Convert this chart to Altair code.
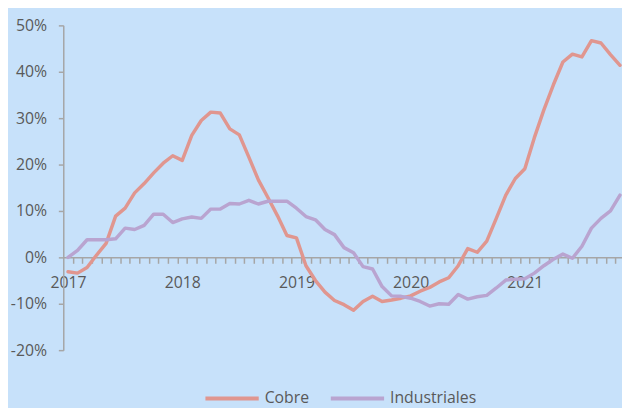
import altair as alt
import pandas as pd

# ---- data (monthly % change, Jan 2017 .. Nov 2021) ----
years = ["2017", "2018", "2019", "2020", "2021"]
series_names = ["Cobre", "Industriales"]
cobre = [-3.1, -3.4, -2.2, 0.5, 3.0, 8.9, 10.6, 13.9, 15.9, 18.2, 20.3, 21.9,
         20.9, 26.3, 29.5, 31.3, 31.1, 27.7, 26.4, 21.6, 16.7, 12.9, 9.0, 4.7,
         4.2, -1.8, -5.0, -7.5, -9.3, -10.2, -11.4, -9.5, -8.4, -9.5, -9.2, -8.8,
         -8.3, -7.3, -6.5, -5.3, -4.4, -1.8, 1.9, 1.1, 3.5, 8.4, 13.4, 17.0,
         19.1, 25.8, 31.8, 37.2, 42.1, 43.8, 43.2, 46.7, 46.2, 43.7, 41.4]
industriales = [0.0, 1.5, 3.8, 3.8, 3.8, 4.0, 6.3, 6.0, 6.9, 9.3, 9.3, 7.5,
                8.3, 8.7, 8.4, 10.4, 10.4, 11.6, 11.5, 12.3, 11.5, 12.1, 12.1, 12.1,
                10.6, 8.8, 8.1, 6.0, 4.9, 2.1, 1.0, -2.0, -2.5, -6.3, -8.3, -8.4,
                -8.8, -9.5, -10.5, -10.0, -10.1, -8.0, -9.0, -8.5, -8.2, -6.6, -4.9, -4.7,
                -4.6, -3.4, -1.8, -0.4, 0.7, -0.2, 2.4, 6.3, 8.4, 10.0, 13.4]
y_ticks = [-20, -10, 0, 10, 20, 30, 40, 50]

rows = []
for name, vals in zip(series_names, [cobre, industriales]):
    for i, v in enumerate(vals):
        rows.append({"t": i, "serie": name, "v": v})
df = pd.DataFrame(rows)

year_pos = [i * 12 for i in range(len(years))]
year_df = pd.DataFrame({"t": year_pos, "label": years, "v": [0] * len(years)})
month_ticks = [i + 0.5 for i in range(len(cobre) - 1)]

font = "Open Sans"
text_color = "#595959"
axis_color = "#A6A6A6"
colors = ["#E0968F", "#B9A4D0"]
bg = "#C7E1FA"

x_scale = alt.Scale(domain=[-0.5, 58.21], nice=False, zero=False)
y_scale = alt.Scale(domain=[-20, 50], nice=False)

y_axis = alt.Axis(values=y_ticks, labelExpr="datum.value + '%'", title=None, grid=False,
                  domainColor=axis_color, domainWidth=1.5, tickColor=axis_color, tickWidth=1.5,
                  tickSize=5, labelPadding=12, labelFont=font, labelFontSize=16,
                  labelColor=text_color)

lines = alt.Chart(df).mark_line(strokeWidth=3.5, clip=True, strokeJoin="round",
                                strokeCap="round").encode(
    x=alt.X("t:Q", scale=x_scale,
            axis=alt.Axis(values=month_ticks, labels=False, tickSize=6, orient="bottom",
                          offset=-94, grid=False, title=None, domainColor=axis_color,
                          domainWidth=1.5, tickColor=axis_color, tickWidth=1.5)),
    y=alt.Y("v:Q", scale=y_scale, axis=y_axis),
    color=alt.Color("serie:N", scale=alt.Scale(domain=series_names, range=colors),
                    legend=alt.Legend(title=None, orient="none", legendX=142, legendY=349,
                                      direction="horizontal", symbolType="stroke",
                                      symbolSize=2916, symbolStrokeWidth=4,
                                      labelFont=font, labelFontSize=16, labelColor=text_color,
                                      labelOffset=4, columnPadding=13, padding=0)),
)

label_js = "[" + ",".join("'" + y + "'" for y in years) + "][datum.value/12]"
year_layer = alt.Chart(year_df).mark_point(opacity=0).encode(
    x=alt.X("t:Q", scale=x_scale,
            axis=alt.Axis(values=year_pos, labelExpr=label_js, ticks=False, tickSize=0,
                          domain=False, orient="bottom", offset=-94, grid=False, title=None,
                          labelPadding=18, labelFlush=False, labelFont=font,
                          labelFontSize=16, labelColor=text_color)),
    y=alt.Y("v:Q", scale=y_scale, axis=y_axis),
)

chart = alt.layer(lines, year_layer).resolve_axis(x="independent").properties(
    width=566, height=329,
    padding={"left": 56, "top": 15, "right": 0, "bottom": 56},
    autosize=alt.AutoSizeParams(type="none"),
).configure(background=bg).configure_view(stroke=None)

chart.save("out.html", embed_options={"renderer": "svg", "actions": False})
